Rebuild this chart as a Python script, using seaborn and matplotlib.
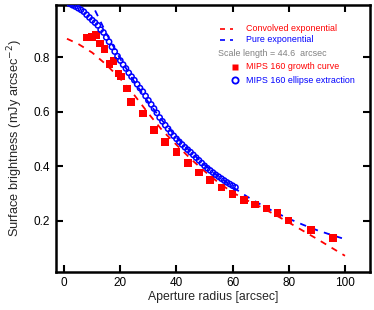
import numpy as np
import pandas as pd
import seaborn as sns
import matplotlib
matplotlib.use("Agg")
import matplotlib.pyplot as plt
from matplotlib.lines import Line2D

# ---- data ----
growth_r = [8.1, 9.9, 11.4, 12.8, 14.4, 16.1, 17.6, 19.3, 20.2, 22.3, 23.9, 28.0,
            32.1, 36.0, 40.0, 44.0, 48.1, 52.0, 56.0, 60.0, 64.1, 68.0, 72.0,
            75.9, 79.9, 88.0, 95.7]
growth_sb = [0.872, 0.873, 0.880, 0.849, 0.830, 0.775, 0.785, 0.740, 0.729, 0.684,
             0.635, 0.593, 0.532, 0.489, 0.452, 0.412, 0.377, 0.349, 0.321, 0.297,
             0.276, 0.259, 0.245, 0.229, 0.200, 0.166, 0.136]

ellipse_r = list(range(2, 62))
ellipse_sb = [0.995, 0.990, 0.985, 0.979, 0.973, 0.966, 0.955, 0.945, 0.935, 0.926,
              0.916, 0.900, 0.890, 0.872, 0.856, 0.837, 0.820, 0.803, 0.787, 0.772,
              0.758, 0.742, 0.728, 0.715, 0.700, 0.686, 0.673, 0.657, 0.641, 0.626,
              0.611, 0.595, 0.578, 0.564, 0.550, 0.537, 0.523, 0.511, 0.500, 0.489,
              0.479, 0.469, 0.460, 0.451, 0.441, 0.431, 0.421, 0.411, 0.401, 0.392,
              0.384, 0.376, 0.368, 0.361, 0.354, 0.347, 0.340, 0.334, 0.328, 0.322]

conv_r = [1, 5, 10, 15, 20, 25, 30, 35, 40, 45, 50, 55, 60, 65, 70, 75, 80, 85, 90, 95, 100]
conv_sb = [0.867, 0.848, 0.816, 0.772, 0.720, 0.660, 0.593, 0.530, 0.478, 0.427, 0.381,
           0.339, 0.303, 0.275, 0.250, 0.222, 0.193, 0.163, 0.133, 0.102, 0.071]

pure_r = [0, 5, 10, 15, 20, 25, 30, 35, 40, 45, 50, 55, 60, 65, 70, 75, 80, 85, 90, 95, 100]
pure_sb = [1.242, 1.110, 0.992, 0.887, 0.793, 0.709, 0.634, 0.566, 0.506, 0.453, 0.405,
           0.362, 0.323, 0.289, 0.259, 0.231, 0.207, 0.185, 0.165, 0.148, 0.132]

x_ticks = [0, 20, 40, 60, 80, 100]
y_ticks = [0.2, 0.4, 0.6, 0.8]

legend_labels = ["Convolved exponential", "Pure exponential",
                 "Scale length = 44.6  arcsec", "MIPS 160 growth curve",
                 "MIPS 160 ellipse extraction"]

RED = "#ff0000"
BLUE = "#0000ff"

sns.set_theme(style="ticks")
plt.rcParams['font.family'] = ['Liberation Sans', 'DejaVu Sans']

fig = plt.figure(figsize=(3.74, 3.10), dpi=100)
ax = fig.add_axes([0.149, 0.123, 0.841, 0.862])

df_g = pd.DataFrame({"r": growth_r, "sb": growth_sb})
df_e = pd.DataFrame({"r": ellipse_r, "sb": ellipse_sb})
df_c = pd.DataFrame({"r": conv_r, "sb": conv_sb})
df_p = pd.DataFrame({"r": pure_r, "sb": pure_sb})

sns.lineplot(data=df_c, x="r", y="sb", ax=ax, color=RED, linewidth=1.3,
             linestyle=(0, (3.5, 3.5)), sort=False, errorbar=None, zorder=2)
sns.lineplot(data=df_p, x="r", y="sb", ax=ax, color=BLUE, linewidth=1.3,
             linestyle=(0, (3.5, 3.5)), sort=False, errorbar=None, zorder=2)
sns.scatterplot(data=df_g, x="r", y="sb", ax=ax, marker="s", s=30, color=RED,
                edgecolor="none", linewidth=0, zorder=3)
sns.scatterplot(data=df_e, x="r", y="sb", ax=ax, marker="o", s=14,
                facecolor="none", edgecolor=BLUE, linewidth=1.1, zorder=4)

ax.set_xlim(-3, 109)
ax.set_ylim(0.012, 0.992)
ax.set_xticks(x_ticks)
ax.set_yticks(y_ticks)
ax.set_xticklabels([str(t) for t in x_ticks])
ax.set_yticklabels([f"{t:.1f}" for t in y_ticks])
ax.tick_params(direction="in", length=5, width=1.5, top=True, right=True,
               labelsize=8.5, colors="black", pad=4)
for sp in ax.spines.values():
    sp.set_linewidth(1.8)
    sp.set_color("black")
ax.set_xlabel("Aperture radius [arcsec]", fontsize=8.8, labelpad=1)
ax.set_ylabel("Surface brightness (mJy arcsec$^{-2}$)", fontsize=9.2, labelpad=6)

# ---- legend drawn manually ----
tx = 0.605
fs = 6.4
ax.add_line(Line2D([0.523, 0.564], [0.909, 0.909], transform=ax.transAxes,
                   color=RED, lw=1.2, dashes=[3, 3]))
ax.text(tx, 0.909, legend_labels[0], transform=ax.transAxes, color=RED,
        fontsize=fs, va="center", ha="left")
ax.add_line(Line2D([0.523, 0.564], [0.868, 0.868], transform=ax.transAxes,
                   color=BLUE, lw=1.2, dashes=[3, 3]))
ax.text(tx, 0.868, legend_labels[1], transform=ax.transAxes, color=BLUE,
        fontsize=fs, va="center", ha="left")
ax.text(0.516, 0.818, legend_labels[2], transform=ax.transAxes, color="#808080",
        fontsize=fs, va="center", ha="left")
ax.add_line(Line2D([0.570], [0.768], transform=ax.transAxes, marker="s",
                   ms=5, color=RED, mec="none", ls="none"))
ax.text(tx, 0.768, legend_labels[3], transform=ax.transAxes, color=RED,
        fontsize=fs, va="center", ha="left")
ax.add_line(Line2D([0.570], [0.718], transform=ax.transAxes, marker="o",
                   ms=4.5, mfc="none", mec=BLUE, mew=1.3, ls="none"))
ax.text(tx, 0.718, legend_labels[4], transform=ax.transAxes, color=BLUE,
        fontsize=fs, va="center", ha="left")

fig.savefig("out.png", dpi=100)
